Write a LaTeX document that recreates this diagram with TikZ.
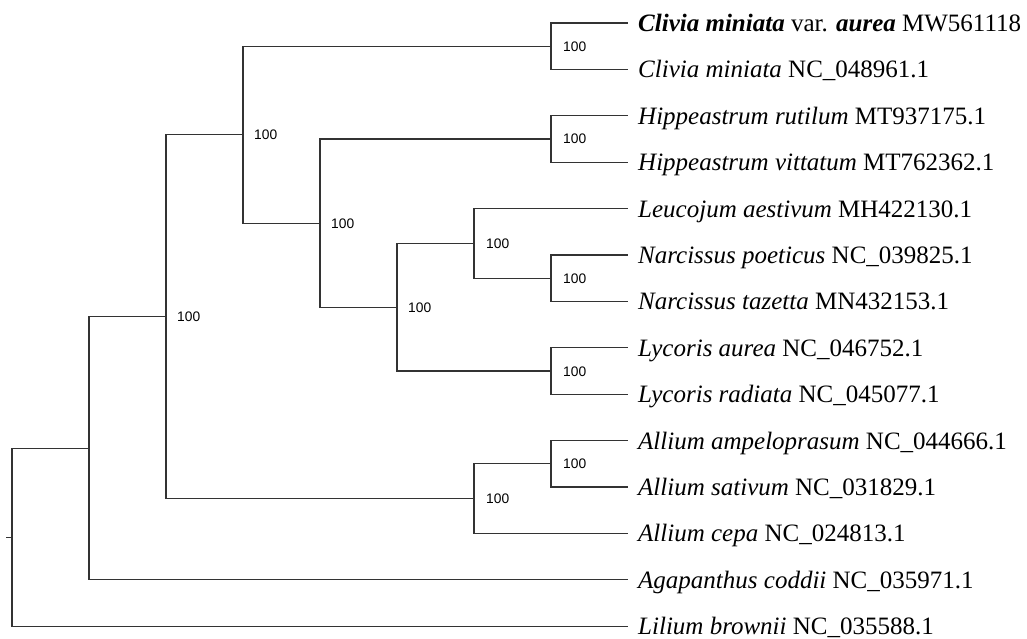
\documentclass[tikz,border=0pt]{standalone}
\usepackage{fontspec}
\setmainfont{Liberation Serif}
\newfontfamily\bsfont{Liberation Sans}
\begin{document}
\begin{tikzpicture}[x=1pt,y=-1pt,
  branch/.style={draw=black!80,line width=1.2pt},
  leaflabel/.style={anchor=base west,inner sep=0pt,font=\fontsize{25}{30}\selectfont},
  boot/.style={anchor=base west,inner sep=0pt,font=\bsfont\fontsize{13.8}{16}\selectfont}]
\useasboundingbox (0,0) rectangle (1027,639);
% leaves
\foreach \i/\y in {1/23,2/69.4,3/115.8,4/162.2,5/208.6,6/255,7/301.4,8/347.8,9/394.2,10/440.6,11/487,12/533.4,13/579.8,14/626.2}
  \coordinate (L\i) at (628,\y);
% internal nodes
\coordinate (n1) at (551,46.2);
\coordinate (n2) at (551,139);
\coordinate (n3) at (551,278.2);
\coordinate (n4) at (474,243.4);
\coordinate (n5) at (551,371);
\coordinate (n6) at (397,307.2);
\coordinate (n7) at (320,223.1);
\coordinate (n8) at (243,134.6);
\coordinate (n9) at (551,463.8);
\coordinate (n10) at (474,498.6);
\coordinate (n11) at (166,316.6);
\coordinate (n12) at (89,448.2);
\coordinate (root) at (12,537.2);
\coordinate (stub) at (6,537.2);
% branches
\draw[branch] (n1) |- (L1); \draw[branch] (n1) |- (L2);
\draw[branch] (n2) |- (L3); \draw[branch] (n2) |- (L4);
\draw[branch] (n3) |- (L6); \draw[branch] (n3) |- (L7);
\draw[branch] (n4) |- (L5); \draw[branch] (n4) |- (n3);
\draw[branch] (n5) |- (L8); \draw[branch] (n5) |- (L9);
\draw[branch] (n6) |- (n4); \draw[branch] (n6) |- (n5);
\draw[branch] (n7) |- (n2); \draw[branch] (n7) |- (n6);
\draw[branch] (n8) |- (n1); \draw[branch] (n8) |- (n7);
\draw[branch] (n9) |- (L10); \draw[branch] (n9) |- (L11);
\draw[branch] (n10) |- (n9); \draw[branch] (n10) |- (L12);
\draw[branch] (n11) |- (n8); \draw[branch] (n11) |- (n10);
\draw[branch] (n12) |- (n11); \draw[branch] (n12) |- (L13);
\draw[branch] (root) |- (n12); \draw[branch] (root) |- (L14);
\draw[branch] (stub) -- (root);
% bootstrap labels
\foreach \n/\dx in {n1/12,n2/12,n3/12,n4/12,n5/12,n6/11,n7/11,n8/11,n9/12,n10/12,n11/11}
  \node[boot] (b\n) at ([xshift=\dx pt,yshift=-5pt]\n) {100};
% leaf labels
\foreach \i/\t in {
  1/{\textbf{\textit{Clivia miniata}} var. \textbf{\textit{aurea}} MW561118},
  2/{\textit{Clivia miniata} NC\_048961.1},
  3/{\textit{Hippeastrum rutilum} MT937175.1},
  4/{\textit{Hippeastrum vittatum} MT762362.1},
  5/{\textit{Leucojum aestivum} MH422130.1},
  6/{\textit{Narcissus poeticus} NC\_039825.1},
  7/{\textit{Narcissus tazetta} MN432153.1},
  8/{\textit{Lycoris aurea} NC\_046752.1},
  9/{\textit{Lycoris radiata} NC\_045077.1},
  10/{\textit{Allium ampeloprasum} NC\_044666.1},
  11/{\textit{Allium sativum} NC\_031829.1},
  12/{\textit{Allium cepa} NC\_024813.1},
  13/{\textit{Agapanthus coddii} NC\_035971.1},
  14/{\textit{Lilium brownii} NC\_035588.1}}
  \node[leaflabel] (t\i) at ([xshift=10pt,yshift=-8.5pt]L\i) {\t};
\end{tikzpicture}
\end{document}
